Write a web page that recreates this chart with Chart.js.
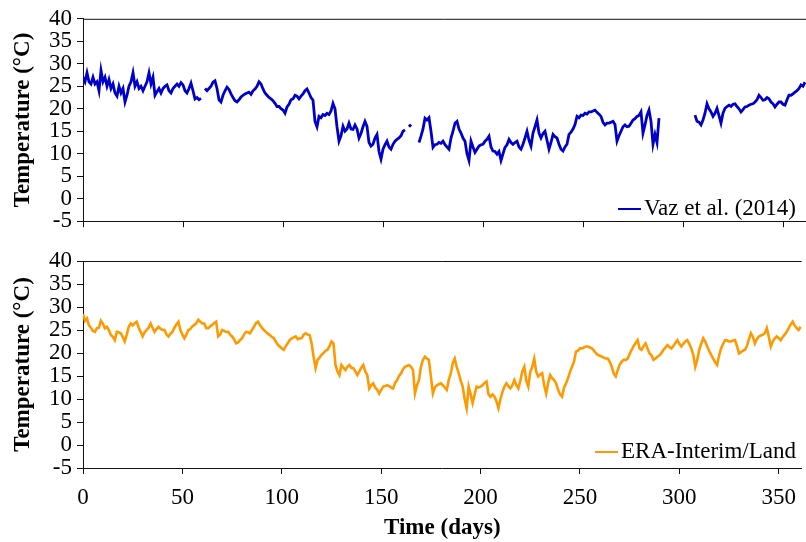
<!DOCTYPE html>
<html lang="en">
<head>
  <meta charset="UTF-8" />
  <title>Temperature comparison</title>
  <script src="https://cdn.jsdelivr.net/npm/chart.js"></script>
  <style>
    html, body { margin: 0; padding: 0; background: #fff; }
    body { width: 806px; height: 542px; position: relative; overflow: hidden; }
    canvas { position: absolute; left: 0; }
    #topChart { top: 0; }
    #bottomChart { top: 240px; }
  </style>
</head>
<body>
  <canvas id="topChart" width="806" height="240"></canvas>
  <canvas id="bottomChart" width="806" height="302"></canvas>

  <script>
    // daily temperatures (null = no data)
    const vazTemp = [
      27, 26, 28, 26, 25.5, 27, 25.5, 26, 24, 28.5,
      26, 27, 25, 26.5, 24.5, 25.5, 23.5, 22.8, 25, 23.5,
      24.5, 21.5, 23, 25, 26, 28, 25, 26, 24.5, 25,
      24, 25, 26, 28, 25.5, 27, 23, 23.8, 24.5, 23.5,
      24.5, 25, 25.3, 24, 23.5, 24.5, 25, 25.5, 25, 25.8,
      25.3, 24, 23.5, 24.5, 25.7, 24, 22.2, 22.5, 22, 22.3,
      null, 24.5, 24, 24.5, 25, 25.9, 26.2, 24.5, 22, 21.5,
      23, 24, 24.8, 24.3, 23.3, 22.5, 21.8, 21.5, 22, 22.6,
      23, 23.3, 23.5, 23.7, 23.2, 24, 24.4, 25, 26, 25.5,
      24.4, 23.5, 23, 22.5, 22.2, 21.8, 21.2, 20.5, 20.5, 20,
      19.7, 19, 20.4, 21, 22, 22.2, 23, 22.8, 22.2, 22.8,
      23.3, 24, 24.4, 23.5, 22.5, 21.9, 17.2, 16, 18.3, 18,
      18.7, 18.5, 19, 18.7, 19.5, 21.2, 20, 16, 12.8, 14,
      16.1, 15, 15.5, 16.8, 15.5, 15.4, 16.4, 15.5, 13.5, 14.5,
      16, 17.2, 16.1, 12.5, 11.7, 12.1, 13.5, 14.3, 10.5, 8.8,
      11, 12, 12.8, 11.5, 11, 12.1, 12.8, 13.2, 13.5, 14,
      15, 15.3, null, 16, 16.5, null, null, null, 12.5, 13.9,
      15.5, 17.9, 17.5, 18, 15, 11.4, 12, 12.1, 12.5, 12.3,
      12.8, 12, 11.5, 11, 13.5, 15, 16.8, 17.2, 15.5, 14.6,
      13.5, 12.8, 10, 8.5, 12.8, 11.5, 10.3, 11, 11.7, 12,
      12.1, 12.8, 13.2, 13.9, 11.5, 10.6, 10.5, 9.9, 10.5, 8.5,
      10, 11.4, 12, 13.2, 12.5, 12.1, 12.5, 12.8, 11.5, 11,
      12.1, 13.5, 15, 13, 11.7, 14.6, 16, 17.5, 14.6, 13.5,
      14.5, 15, 13, 11, 12.5, 14.3, 13.8, 13.5, 12.1, 11,
      10.6, 11.5, 12.1, 14.3, 14.8, 15.5, 16.5, 18.3, 18, 18.6,
      18.5, 19, 18.8, 19.3, 19.3, 19.5, 19.7, 19.2, 18.8, 18.3,
      17, 16.4, 16.8, 16.8, 17, 17.2, 16.5, 12.8, 14, 15,
      16, 16.4, 16, 16.1, 16.8, 17.5, 17.8, 18.3, 18.5, 19.3,
      14.6, 16.4, 18.5, 19.7, 17.2, 12.1, 14.3, 12.5, 17.9, null,
      null, null, null, null, null, null, null, null, null, null,
      null, null, null, null, null, null, 18.6, 17.2, 17, 16.4,
      17.5, 19, 21.1, 20, 19.3, 18.3, 19, 20.1, 18.5, 16.8,
      19, 20.1, 20.5, 20.8, 20.5, 21, 21.1, 20.5, 20, 19.3,
      19.8, 20.4, 20.5, 20.8, 21, 21.1, 21.5, 22, 23, 22.5,
      21.9, 22, 22.5, 22.2, 21.5, 21.1, 20.4, 21, 21.5, 21.5,
      21, 20.8, 22, 23, 23, 23.3, 23.7, 24, 24.5, 25.3,
      25, 25.9
    ];

    const eraTemp = [
      28.5, 27, 27.5, 26, 25.5, 24.8, 24.6, 25.4, 25.5, 27,
      26.4, 25.4, 25.7, 25, 23.9, 23.5, 22.8, 24.6, 24.5, 24.3,
      23.5, 22.5, 24, 25.7, 26.4, 26, 26.5, 26.8, 25.5, 24.6,
      23.6, 24.5, 25, 25.5, 26.4, 25.5, 24.6, 25.2, 25.7, 25.3,
      25, 25, 24, 23.6, 24.2, 24.6, 25.5, 26.2, 26.8, 25,
      24, 23.2, 24, 25, 25.2, 25.8, 26.1, 26.5, 27.2, 26.8,
      26.4, 26.4, 25.4, 25.4, 25.8, 26.1, 26.5, 26.8, 23.6, 24,
      25, 24.8, 24.6, 24.6, 24, 23.6, 23, 22.1, 22.3, 22.8,
      23.2, 24, 24.6, 24.5, 24.3, 25, 25.7, 26.5, 26.8, 26.1,
      25.5, 25, 24.6, 24.2, 23.9, 23.5, 23.2, 22.5, 21.8, 21.4,
      21, 20.7, 21.5, 22.1, 22.8, 23.2, 23.4, 23.6, 23, 23.2,
      23.2, 24, 24.3, 24, 23.9, 22.1, 19.2, 16.7, 18.5, 19,
      19.6, 20, 20.5, 20.7, 21.5, 22.5, 22.1, 17.4, 16, 15.2,
      17.4, 16.8, 16.3, 17, 17.4, 16.8, 16.7, 16, 15.2, 16,
      16.8, 17.4, 16, 15.2, 12.3, 13, 13.4, 12.5, 12, 11.2,
      12, 12.7, 12.8, 13, 12.8, 12.5, 12.3, 13.5, 14.1, 15,
      15.6, 16.5, 17, 17.2, 17.4, 17, 16.3, 11.2, 13, 14.1,
      17, 18.5, 19.2, 18.8, 18.5, 14.9, 11.2, 12.5, 13, 13.2,
      13.4, 13, 12.5, 12, 14.1, 15.5, 17.8, 18.8, 17, 15.6,
      14, 12.7, 10, 8, 12.7, 11, 9.1, 11, 12.7, 12.5,
      12.7, 13, 13.5, 13.8, 11, 10.5, 11, 10.5, 9.5, 8,
      10, 11.5, 12.7, 13.4, 12.8, 12.3, 13, 14.1, 13, 12.3,
      14, 16, 17, 14, 12.7, 15.9, 17, 18.8, 15.9, 14.9,
      15.3, 15.6, 13, 11.2, 13.5, 15.2, 14.5, 14.1, 13.4, 12,
      11, 10.5, 12.5, 13.4, 14.5, 15.9, 17, 18.1, 20.3, 20.5,
      21, 21, 21.2, 21.4, 21.4, 21.2, 21, 20.5, 20, 19.6,
      19.4, 19.2, 19, 18.8, 18.8, 18.1, 17, 15.5, 14.9, 16.3,
      17.5, 18.1, 18.5, 18.5, 18.8, 19.8, 20.7, 21.5, 22.2, 22.8,
      21, 20.7, 21.5, 22.1, 21, 19.9, 19.5, 18.5, 18.8, 19.2,
      19.5, 20, 20.7, 21.2, 21.7, 21.3, 21, 21.5, 22.2, 22.8,
      22, 21.4, 22, 22.5, 22.8, 22, 21, 19.6, 17, 18.5,
      20.7, 22, 23.2, 22.5, 21.4, 20.5, 19.6, 18.8, 18, 17.4,
      19.5, 21, 22, 22.8, 22.7, 22.5, 22.5, 22.7, 22.8, 21.5,
      19.9, 20.2, 20.5, 20.7, 21.5, 23, 24.3, 23.5, 22.1, 23,
      23.6, 23.8, 24, 24.3, 25.4, 23.5, 21.4, 22.5, 23.2, 23.6,
      23.2, 22.8, 23.5, 24, 24.6, 25.4, 26.2, 26.8, 26, 25.4,
      25, 25.7
    ];

    const tempTicks = [-5, 0, 5, 10, 15, 20, 25, 30, 35, 40];
    const dayTicks = [0, 50, 100, 150, 200, 250, 300, 350];
    const dayMax = 361.5;

    const serif = "'Liberation Serif', 'Times New Roman', serif";

    Chart.defaults.color = '#000';
    Chart.defaults.font.family = serif;

    function toPoints(values) {
      return values.map((v, i) => ({ x: i, y: v }));
    }

    // frame line on top + legend line/text in the lower right corner
    const framePlugin = {
      id: 'frame',
      afterDraw(chart, args, opts) {
        const { ctx, chartArea } = chart;
        ctx.save();
        ctx.strokeStyle = '#111';
        ctx.lineWidth = 1;
        ctx.beginPath();
        ctx.moveTo(chartArea.left, chartArea.top + 0.5);
        ctx.lineTo(chartArea.right, chartArea.top + 0.5);
        ctx.stroke();

        ctx.font = '23px ' + serif;
        ctx.textAlign = 'right';
        ctx.textBaseline = 'middle';
        ctx.fillStyle = '#000';
        const textRight = 796;
        const w = ctx.measureText(opts.text).width;
        ctx.fillText(opts.text, textRight, opts.y);
        ctx.strokeStyle = opts.color;
        ctx.lineWidth = 2;
        ctx.beginPath();
        ctx.moveTo(textRight - w - 26, opts.y);
        ctx.lineTo(textRight - w - 3, opts.y);
        ctx.stroke();
        ctx.restore();
      }
    };

    function makeChart(id, values, color, label, opts) {
      const ctx = document.getElementById(id).getContext('2d');
      return new Chart(ctx, {
        type: 'line',
        data: {
          datasets: [{
            label: label,
            data: toPoints(values),
            borderColor: color,
            borderWidth: opts.lineWidth,
            pointRadius: 0,
            tension: 0,
            spanGaps: false
          }]
        },
        options: {
          responsive: false,
          animation: false,
          layout: { padding: { top: opts.padTop, left: 0, right: 0, bottom: 0 } },
          plugins: {
            legend: { display: false },
            tooltip: { enabled: false },
            frame: { text: label, color: color, y: opts.legendY }
          },
          scales: {
            x: {
              type: 'linear',
              min: 0,
              max: dayMax,
              afterBuildTicks: (s) => { s.ticks = dayTicks.map(v => ({ value: v })); },
              afterFit: (s) => { s.height = opts.xHeight; },
              grid: { drawOnChartArea: false, drawTicks: true, tickLength: 6, color: '#111' },
              border: { display: true, color: '#111', width: 1 },
              ticks: {
                display: opts.showX,
                autoSkip: false,
                maxRotation: 0,
                padding: 10,
                font: { size: 23, family: serif }
              },
              title: {
                display: opts.showX,
                text: 'Time (days)',
                font: { size: 23, weight: 'bold', family: serif },
                padding: { top: 0, bottom: 0 }
              }
            },
            y: {
              min: -5,
              max: 40,
              afterBuildTicks: (s) => { s.ticks = tempTicks.map(v => ({ value: v })); },
              afterFit: (s) => { s.width = 83; },
              grid: { drawOnChartArea: false, drawTicks: true, tickLength: 6, color: '#111' },
              border: { display: true, color: '#111', width: 1 },
              ticks: { autoSkip: false, padding: 5, font: { size: 23, family: serif } },
              title: {
                display: true,
                text: 'Temperature (°C)',
                font: { size: 23, weight: 'bold', family: serif },
                padding: { top: 9, bottom: 0 }
              }
            }
          }
        },
        plugins: [framePlugin]
      });
    }

    makeChart('topChart', vazTemp, '#0000CC', 'Vaz et al. (2014)',
      { padTop: 18, xHeight: 15, showX: false, legendY: 209, lineWidth: 2.8 });
    makeChart('bottomChart', eraTemp, '#FF9900', 'ERA-Interim/Land',
      { padTop: 21, xHeight: 74, showX: true, legendY: 212, lineWidth: 2.6 });
  </script>
</body>
</html>
